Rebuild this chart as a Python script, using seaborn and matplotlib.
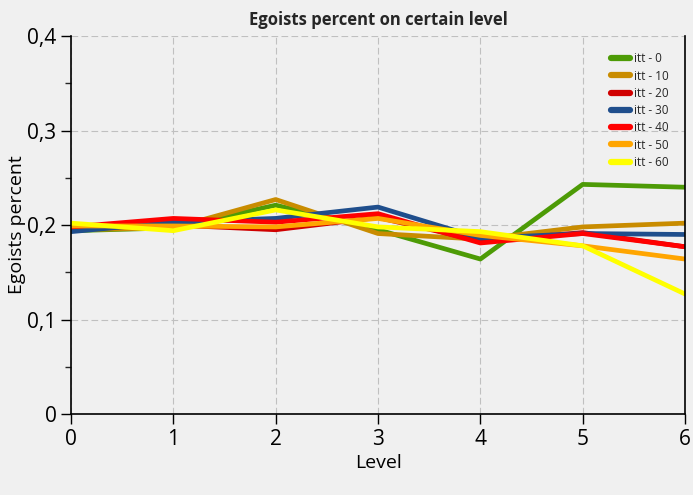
import numpy as np
import matplotlib
matplotlib.use("Agg")
import matplotlib.pyplot as plt
from matplotlib.ticker import FixedLocator, FuncFormatter, MultipleLocator
import seaborn as sns
import pandas as pd

sns.set_theme(style="ticks")
plt.rcParams['font.family'] = ['Open Sans', 'DejaVu Sans']

levels = [0, 1, 2, 3, 4, 5, 6]
series_names = ["itt - 0", "itt - 10", "itt - 20", "itt - 30", "itt - 40", "itt - 50", "itt - 60"]
itt_0 = [0.194, 0.197, 0.221, 0.195, 0.164, 0.243, 0.240]
itt_10 = [0.195, 0.197, 0.227, 0.191, 0.185, 0.198, 0.202]
itt_20 = [0.197, 0.200, 0.195, 0.208, 0.183, 0.192, 0.177]
itt_30 = [0.193, 0.203, 0.207, 0.219, 0.186, 0.191, 0.190]
itt_40 = [0.198, 0.207, 0.203, 0.212, 0.181, 0.191, 0.177]
itt_50 = [0.199, 0.199, 0.198, 0.207, 0.189, 0.178, 0.164]
itt_60 = [0.202, 0.194, 0.216, 0.198, 0.193, 0.178, 0.127]
colors = ["#4d9b06", "#c98c00", "#d00000", "#1f4e8c", "#ff0000", "#ffa500", "#ffff00"]

values = [itt_0, itt_10, itt_20, itt_30, itt_40, itt_50, itt_60]
df = pd.DataFrame({
    "Level": levels * len(series_names),
    "Egoists percent": np.concatenate(values),
    "series": np.repeat(series_names, len(levels)),
})

bg = "#f0f0f0"
fig = plt.figure(figsize=(6.93, 4.95), dpi=100, facecolor=bg)
ax = fig.add_axes([0.1025, 0.1636, 0.886, 0.7636], facecolor=bg)

sns.lineplot(data=df, x="Level", y="Egoists percent", hue="series",
             palette=colors, hue_order=series_names, linewidth=3.4, ax=ax)

ax.set_xlim(0, 6)
ax.set_ylim(0, 0.4)
ax.xaxis.set_major_locator(FixedLocator(levels))
ax.yaxis.set_major_locator(MultipleLocator(0.1))
ax.yaxis.set_minor_locator(MultipleLocator(0.05))
ax.yaxis.set_major_formatter(FuncFormatter(
    lambda v, p: "0" if abs(v) < 1e-9 else ("%.1f" % v).replace(".", ",")))
ax.tick_params(axis="both", labelsize=15, colors="black", length=7, width=1)
ax.tick_params(axis="y", which="minor", length=4, width=1)
ax.grid(True, which="major", color="#c0c0c0", linestyle=(0, (6, 3)), linewidth=0.8)

for s in ["left", "bottom", "right"]:
    ax.spines[s].set_color("black")
    ax.spines[s].set_linewidth(1.2)
ax.spines["top"].set_visible(False)

ax.set_xlabel("Level", fontsize=14, color="black", labelpad=3)
ax.set_ylabel("Egoists percent", fontsize=14, color="black", labelpad=1)
ax.set_title("Egoists percent on certain level", fontsize=12, fontweight="bold", pad=8)

leg = ax.legend(loc="upper right", frameon=False, fontsize=8.5, handlelength=1.6,
                handletextpad=0.3, labelspacing=0.36, bbox_to_anchor=(0.99, 0.985))
for line in leg.get_lines():
    line.set_linewidth(4.5)

fig.savefig("out.png", dpi=100, facecolor=bg)
